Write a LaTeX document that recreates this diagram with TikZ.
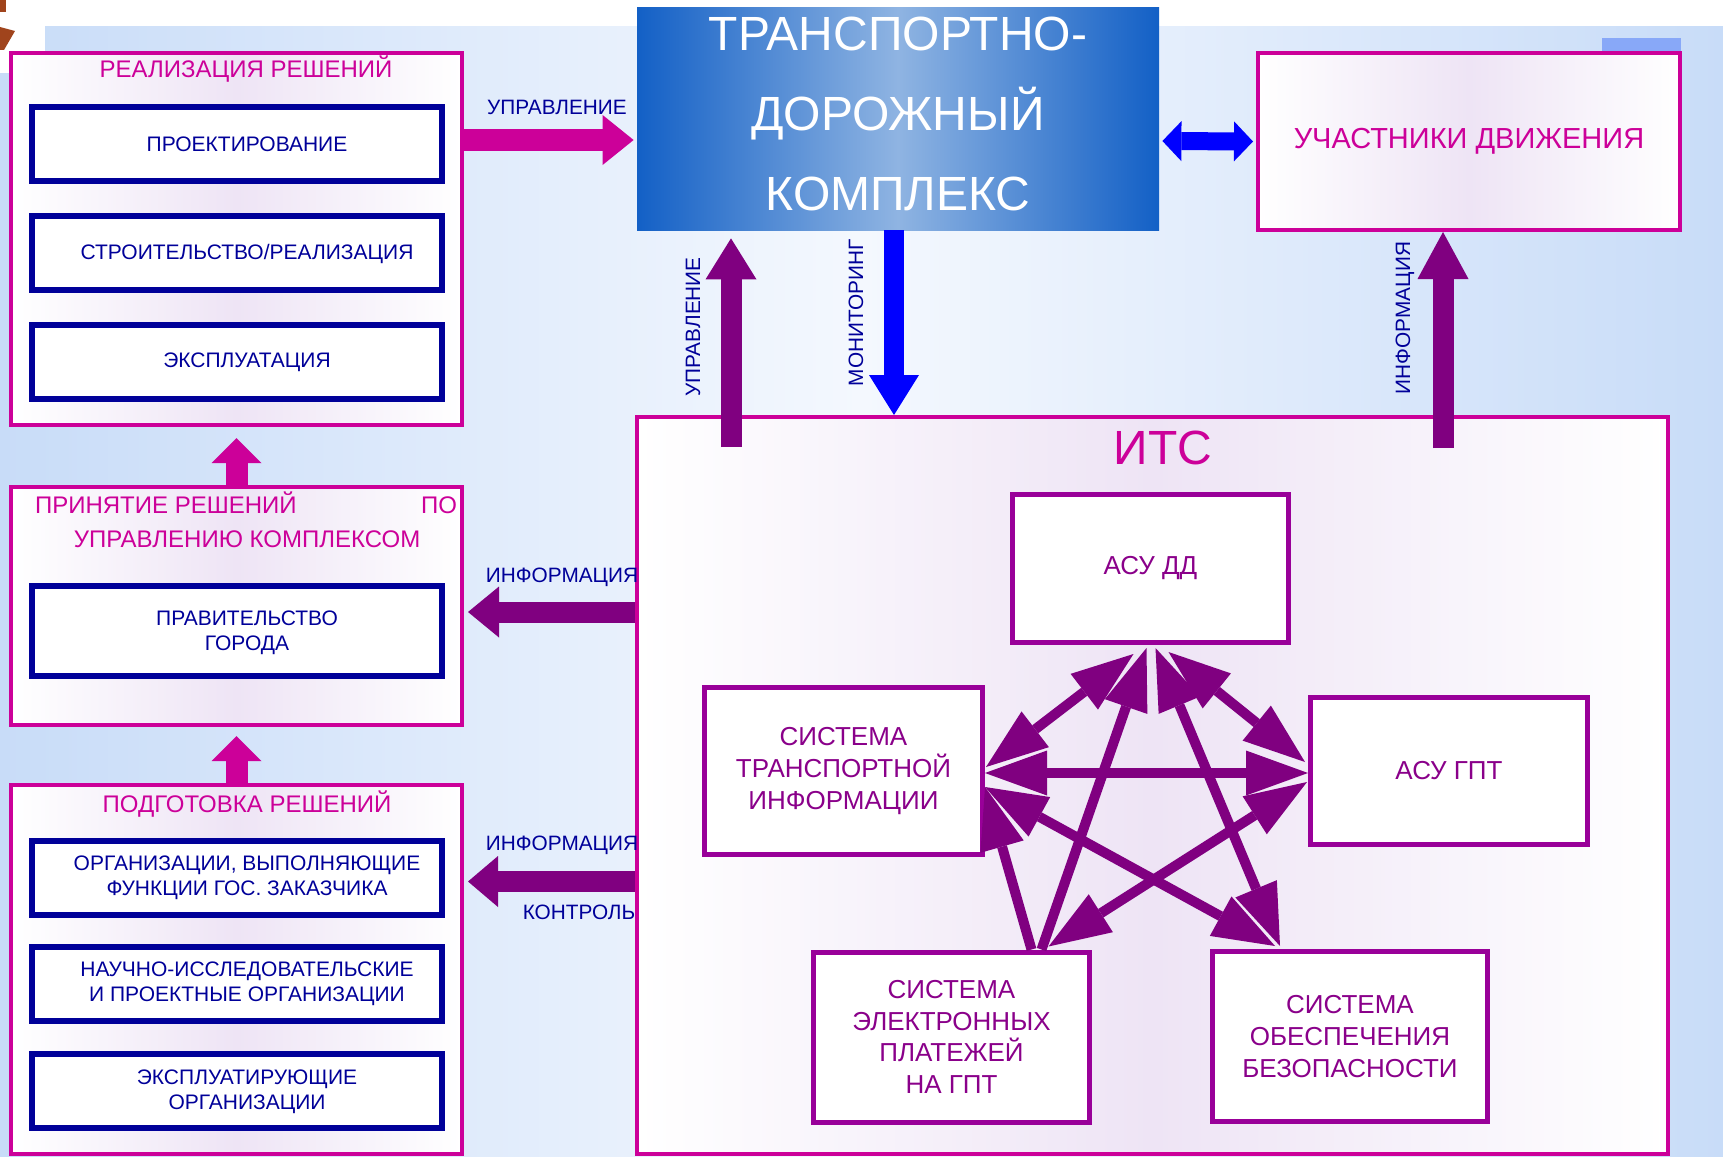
\documentclass[tikz,border=0pt]{standalone}
\usepackage{fontspec}
\setmainfont{Liberation Sans}
\usetikzlibrary{arrows.meta,calc,positioning}

\definecolor{magbox}{HTML}{CC0099}
\definecolor{navy}{HTML}{000099}
\definecolor{itsviolet}{HTML}{990099}
\definecolor{itstext}{HTML}{8A008A}
\definecolor{arrowviolet}{HTML}{800080}
\definecolor{lilac}{HTML}{EEE4F5}
\definecolor{bgblue}{HTML}{C8DCF8}
\definecolor{bgpale}{HTML}{F4F8FE}
\definecolor{tdkdark}{HTML}{1360C6}
\definecolor{tdklight}{HTML}{8FB4E2}
\definecolor{rust}{HTML}{A0441C}
\definecolor{patchblue}{HTML}{88A8F8}

\newcommand{\titlefont}{\fontsize{12pt}{14pt}\selectfont}
\newcommand{\innerfont}{\fontsize{10.5pt}{12.5pt}\selectfont}
\newcommand{\labelfont}{\fontsize{10.4pt}{12pt}\selectfont}
\newcommand{\itsboxfont}{\fontsize{13pt}{15.8pt}\selectfont}
\newcommand{\uchfont}{\fontsize{14.5pt}{17pt}\selectfont}
\newcommand{\itsfont}{\fontsize{24pt}{26pt}\selectfont}
\newcommand{\tdkfont}{\fontsize{24pt}{40pt}\selectfont}

\tikzset{
  groupbox/.style={draw=magbox, line width=2pt, left color=white, right color=white, middle color=lilac, minimum width=225.5pt},
  innerbox/.style={draw=navy, line width=3pt, fill=white, minimum width=205pt, minimum height=37pt},
  innertext/.style={text=navy, font=\innerfont, align=center},
  grouptitle/.style={text=magbox, font=\titlefont},
  itsbox/.style={draw=itsviolet, line width=2.5pt, fill=white, text=itstext, font=\itsboxfont, align=center},
  sidelabel/.style={text=navy, font=\labelfont},
  magarrow/.style={draw=magbox, line width=11pt, >={Triangle[length=#1,width=25pt,line width=0pt]}, ->},
  magarrow/.default=12.5pt,
  violetarrow/.style={draw=arrowviolet, line width=10.5pt, >={Triangle[length=#1,width=25.5pt,line width=0pt]}, ->},
  bluearrow/.style={draw=blue, line width=9pt, >={Triangle[length=9.5pt,width=20pt,line width=0pt]}, <->},
  monarrow/.style={draw=blue, line width=10pt, >={Triangle[length=20pt,width=25pt,line width=0pt]}, ->},
  pentarrow/.style={draw=arrowviolet, line width=5pt, >={Triangle[length=31pt,width=22.5pt,line width=0pt]}}
}

\begin{document}
\begin{tikzpicture}[x=0.5pt, y=-0.5pt]
    \useasboundingbox (0,0) rectangle (1723,1156);
    % 背景
    \fill[white] (0,0) rectangle (1723,1156);
    \shade[left color=bgblue, right color=bgblue, middle color=bgpale] (0,27) rectangle (1723,1156);
    \fill[white] (0,0) rectangle (45,73);
    \fill[rust] (0,0) rectangle (6,12);
    \fill[rust] (0,27) -- (15,31) -- (4,50) -- (0,50) -- cycle;
    \fill[patchblue] (1602,38) rectangle (1681,52);

    % 实施决策
    \node[groupbox, minimum height=186pt] (real) at (236.5,239) {};
    \node[grouptitle] (realT) at (246,69) {РЕАЛИЗАЦИЯ РЕШЕНИЙ};
    \node[innerbox] (proj) at (237,144) {};
    \node[innertext] (projT) at (247,144) {ПРОЕКТИРОВАНИЕ};
    \node[innerbox] (stroi) at (237,253) {};
    \node[innertext] (stroiT) at (247,254) {СТРОИТЕЛЬСТВО/РЕАЛИЗАЦИЯ};
    \node[innerbox] (expl) at (237,361.5) {};
    \node[innertext] (explT) at (247,362) {ЭКСПЛУАТАЦИЯ};

    % 决策
    \node[groupbox, minimum height=119pt] (prin) at (236.5,606) {};
    \node[grouptitle] (prinT) at (246,503) {\makebox[211pt]{ПРИНЯТИЕ РЕШЕНИЙ\hfill ПО}};
    \node[grouptitle] (prinT2) at (247,539) {УПРАВЛЕНИЮ КОМПЛЕКСОМ};
    \node[innerbox, minimum height=45pt] (prav) at (237,631) {};
    \node[innertext] (pravT) at (247,633) {ПРАВИТЕЛЬСТВО\\ГОРОДА};

    % 准备决策
    \node[groupbox, minimum height=184.5pt] (podg) at (236.5,969.5) {};
    \node[grouptitle] (podgT) at (247,804) {ПОДГОТОВКА РЕШЕНИЙ};
    \node[innerbox] (org) at (237,878) {};
    \node[innertext] (orgT) at (247,878) {ОРГАНИЗАЦИИ, ВЫПОЛНЯЮЩИЕ\\ФУНКЦИИ ГОС. ЗАКАЗЧИКА};
    \node[innerbox] (nauch) at (237,984) {};
    \node[innertext] (nauchT) at (247,984) {НАУЧНО-ИССЛЕДОВАТЕЛЬСКИЕ\\И ПРОЕКТНЫЕ ОРГАНИЗАЦИИ};
    \node[innerbox] (expl2) at (237,1091) {};
    \node[innertext] (expl2T) at (247,1092) {ЭКСПЛУАТИРУЮЩИЕ\\ОРГАНИЗАЦИИ};

    % 交通道路综合体
    \node[left color=tdkdark, right color=tdkdark, middle color=tdklight, minimum width=261pt, minimum height=111pt] (tdk) at (898,119) {};
    \node[text=white, font=\tdkfont, align=center] (tdkT) at (898,114) {ТРАНСПОРТНО-\\ДОРОЖНЫЙ\\КОМПЛЕКС};

    % 交通参与者
    \node[groupbox, minimum width=211pt, minimum height=88.5pt, text=magbox, font=\uchfont] (uch) at (1469,141.5) {УЧАСТНИКИ ДВИЖЕНИЯ};

    % ИТС
    \node[groupbox, minimum width=515.5pt, minimum height=368.5pt] (its) at (1152.5,785.5) {};
    \node[text=magbox, font=\itsfont] (itsT) at (1163,448) {ИТС};
    \node[itsbox, minimum width=138pt, minimum height=74pt] (asudd) at (1150.5,568.5) {АСУ ДД};
    \node[itsbox, minimum width=139pt, minimum height=83.5pt] (sti) at (843.5,771) {СИСТЕМА\\ТРАНСПОРТНОЙ\\ИНФОРМАЦИИ};
    \node[itsbox, minimum width=138.5pt, minimum height=73.5pt] (asugpt) at (1449,771) {АСУ ГПТ};
    \node[itsbox, minimum width=138pt, minimum height=85pt] (sep) at (951.5,1037) {СИСТЕМА\\ЭЛЕКТРОННЫХ\\ПЛАТЕЖЕЙ\\НА ГПТ};
    \node[itsbox, minimum width=137.5pt, minimum height=85pt] (sob) at (1350,1036.5) {СИСТЕМА\\ОБЕСПЕЧЕНИЯ\\БЕЗОПАСНОСТИ};

    % 粗箭头
    \draw[magarrow=15.5pt] ($(real.east)+(0,-99)$) -- ($(tdk.west)+(-3,21)$);
    \draw[magarrow] (prin.north) -- ($(real.south)+(0,11)$);
    \draw[magarrow] (podg.north) -- ($(prin.south)+(0,9)$);
    \draw[bluearrow] ($(tdk.east)+(3,22)$) -- ($(uch.west)+(-3,0)$);
    \draw[monarrow] ($(tdk.south)+(-4,0)$) coordinate (mon) -- (mon |- its.north);
    \draw[violetarrow=20.5pt] ($(its.north)+(-421.5,32)$) coordinate (upr) -- ($(upr |- tdk.south)+(0,8)$);
    \draw[violetarrow=23.5pt] ($(its.north)+(290.5,33)$) coordinate (inf) -- (inf |- uch.south);
    \draw[violetarrow=15.5pt, <-] ($(prin.east)+(4,6)$) coordinate (inf1) -- (its.west |- inf1);
    \draw[violetarrow=15pt, <-] ($(podg.east)+(4,-88)$) coordinate (inf2) -- (its.west |- inf2);

    % 标签
    \node[sidelabel] (uprL) at (557,107) {УПРАВЛЕНИЕ};
    \node[sidelabel, rotate=90] (uprL2) at (693,327) {УПРАВЛЕНИЕ};
    \node[sidelabel, rotate=90] (monL) at (856,313) {МОНИТОРИНГ};
    \node[sidelabel, rotate=90] (infL) at (1405,318) {ИНФОРМАЦИЯ};
    \node[sidelabel] (infL1) at (562,577) {ИНФОРМАЦИЯ};
    \node[sidelabel] (infL2) at (562,845) {ИНФОРМАЦИЯ};
    \node[sidelabel] (ctrlL) at (579,912) {КОНТРОЛЬ};

    % 子系统之间
    \draw[pentarrow, <->] ($(asudd.south)+(-17,9)$) -- ($(sti.east)+(1,-4)$);
    \draw[pentarrow, <->] ($(asudd.south)+(18,7)$) -- ($(asugpt.west)+(-3,-9)$);
    \draw[pentarrow, <->] ($(sti.east)+(0,2)$) -- ($(asugpt.west)+(0,2)$);
    \draw[pentarrow, ->] ($(sep.north)+(90,0)$) -- ($(asudd.south)+(-4,3)$);
    \draw[pentarrow, ->] ($(sep.north)+(80,0)$) -- ($(sti.east)+(0,16)$);
    \draw[pentarrow, <->] ($(sep.north)+(97,-3)$) -- ($(asugpt.west)+(-1,11)$);
    \draw[pentarrow, <->] ($(asudd.south)+(5,3)$) -- ($(sob.north)+(-70,-3)$);
    \draw[pentarrow, <->] ($(sti.east)+(0,16)$) -- ($(sob.north)+(-75,-3)$);
\end{tikzpicture}
\end{document}
